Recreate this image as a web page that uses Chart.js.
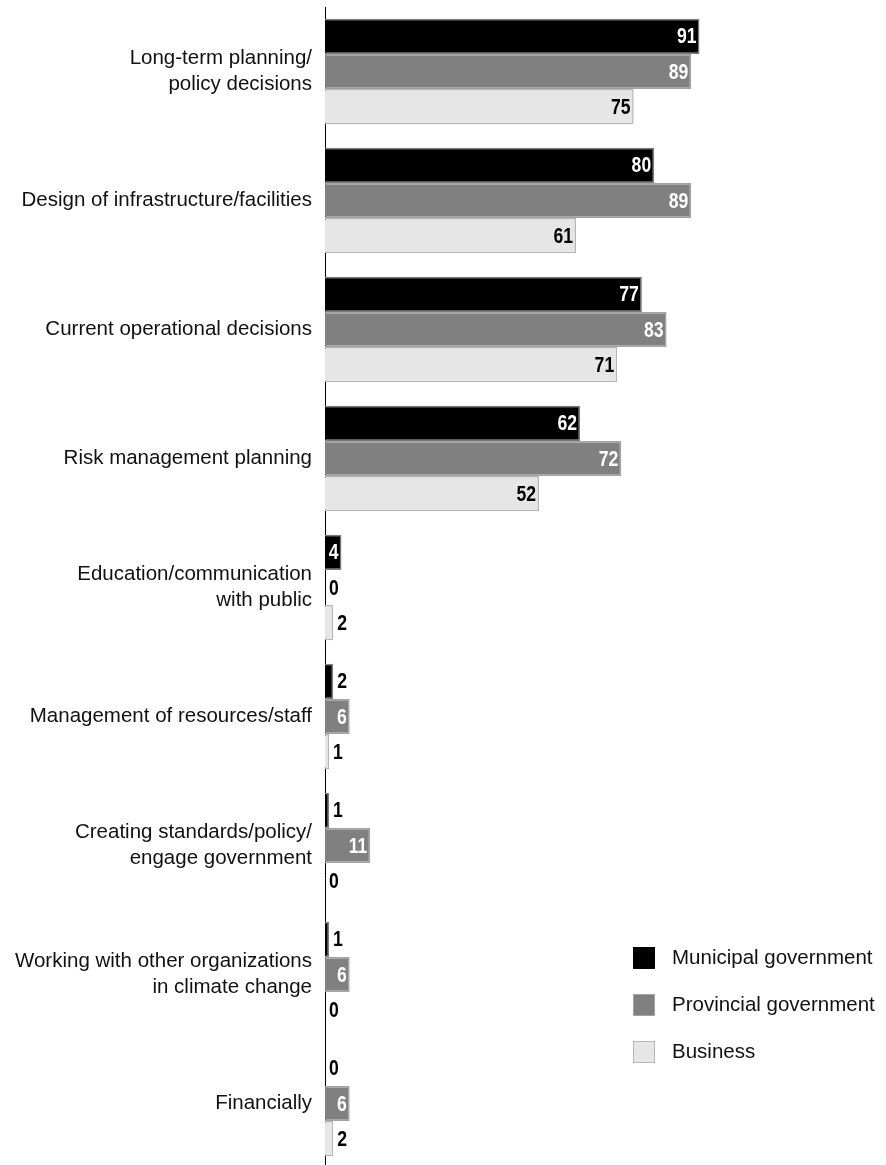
<!DOCTYPE html>
<html>
<head>
<meta charset="utf-8">
<script src="https://cdn.jsdelivr.net/npm/chart.js@4"></script>
<style>
    html, body { margin: 0; padding: 0; background: #fff; overflow: hidden; }
    .chart-wrap { position: relative; width: 886px; height: 1168px; }
</style>
</head>
<body>
<div class="chart-wrap"><canvas id="usesChart" width="886" height="1168"></canvas></div>
<script>
const categories = [
    ['Long-term planning/', 'policy decisions'],
    'Design of infrastructure/facilities',
    'Current operational decisions',
    'Risk management planning',
    ['Education/communication', 'with public'],
    'Management of resources/staff',
    ['Creating standards/policy/', 'engage government'],
    ['Working with other organizations', 'in climate change'],
    'Financially'
];
const seriesNames = ['Municipal government', 'Provincial government', 'Business'];
const municipal = [91, 80, 77, 62, 4, 2, 1, 1, 0];
const provincial = [89, 89, 83, 72, 0, 6, 11, 6, 6];
const business = [75, 61, 71, 52, 2, 1, 0, 0, 2];

const fills = ['#000000', '#808080', '#e6e6e6'];
const edges = ['#7a7a7a', '#a3a3a3', '#b5b5b5'];
const insideText = ['#ffffff', '#ffffff', '#000000'];

const textFamily = '"Liberation Sans", Arial, sans-serif';
const labelFont = 'bold 22px ' + textFamily;
const squeeze = 0.8; // condensed look for the value labels

// value labels: inside the bar end when they fit, just past it otherwise
const valueLabels = {
    id: 'valueLabels',
    afterDatasetsDraw(chart) {
        const ctx = chart.ctx;
        ctx.save();
        ctx.font = labelFont;
        ctx.textBaseline = 'middle';
        chart.data.datasets.forEach((ds, di) => {
            const meta = chart.getDatasetMeta(di);
            meta.data.forEach((bar, i) => {
                const text = String(ds.data[i]);
                const w = ctx.measureText(text).width * squeeze;
                const barW = bar.x - bar.base;
                let x, color;
                if (barW >= w + 5) {
                    x = bar.x - 3 - w;
                    color = insideText[di];
                } else {
                    x = bar.x + 4;
                    color = '#000';
                }
                ctx.save();
                ctx.translate(x, bar.y + 1);
                ctx.scale(squeeze, 1);
                ctx.textAlign = 'left';
                ctx.fillStyle = color;
                ctx.fillText(text, 0, 0);
                ctx.restore();
            });
        });
        ctx.restore();
    }
};

// legend block sitting in the lower right of the plot
const sideLegend = {
    id: 'sideLegend',
    afterDraw(chart) {
        const ctx = chart.ctx;
        ctx.save();
        ctx.font = '20.5px ' + textFamily;
        ctx.textBaseline = 'middle';
        ctx.textAlign = 'left';
        chart.data.datasets.forEach((ds, di) => {
            const cy = 958 + di * 47;
            ctx.fillStyle = ds.backgroundColor;
            ctx.fillRect(633, cy - 11, 22, 22);
            if (di > 0) {
                ctx.strokeStyle = ds.borderColor;
                ctx.lineWidth = 1;
                ctx.strokeRect(633.5, cy - 10.5, 21, 21);
            }
            ctx.fillStyle = '#111';
            ctx.fillText(ds.label, 672, cy);
        });
        ctx.restore();
    }
};

const seriesData = [municipal, provincial, business];

new Chart(document.getElementById('usesChart'), {
    type: 'bar',
    data: {
        labels: categories,
        datasets: seriesData.map((vals, di) => ({
            label: seriesNames[di],
            data: vals,
            backgroundColor: fills[di],
            borderColor: edges[di],
            borderWidth: 1.5,
            borderSkipped: 'start',
            categoryPercentage: 0.816,
            barPercentage: 1.0
        }))
    },
    options: {
        indexAxis: 'y',
        responsive: false,
        animation: false,
        layout: { padding: { top: 7, right: 149.5, bottom: 0, left: 0 } },
        plugins: {
            legend: { display: false },
            tooltip: { enabled: false }
        },
        scales: {
            x: {
                display: false,
                min: 0,
                max: 100
            },
            y: {
                afterFit(scale) {
                    scale.width = 325;
                    scale.paddingTop = 0;
                    scale.paddingBottom = 0;
                },
                grid: { display: false, drawTicks: false },
                border: { display: true, color: '#000', width: 1 },
                ticks: {
                    padding: 13,
                    color: '#111',
                    font: { family: textFamily, size: 20.5, lineHeight: 1.28 }
                }
            }
        }
    },
    plugins: [valueLabels, sideLegend]
});
</script>
</body>
</html>
